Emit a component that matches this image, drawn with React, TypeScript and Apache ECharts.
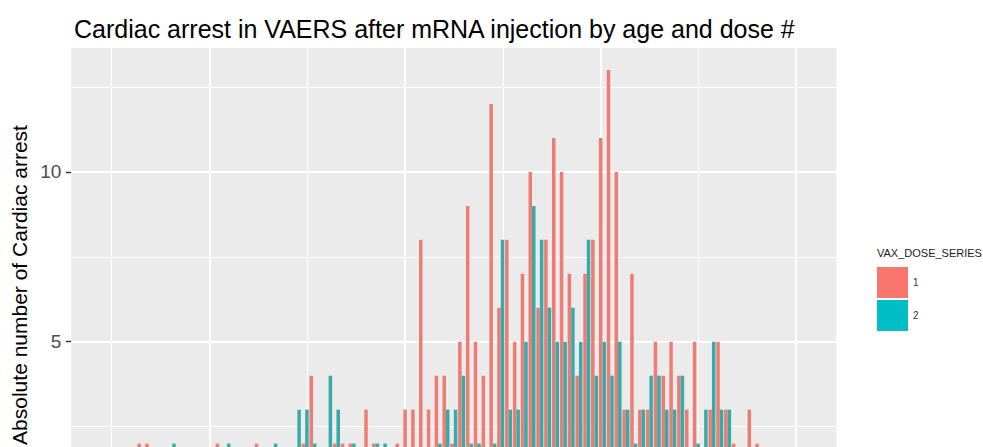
import React, { useEffect, useRef } from "react";
import * as echarts from "echarts";

// Age (years) of each bar pair
const ages = [
  12, 13, 14, 15, 16, 17, 18, 19, 20, 21, 22, 23, 24, 25, 26, 27, 28, 29, 30, 31,
  32, 33, 34, 35, 36, 37, 38, 39, 40, 41, 42, 43, 44, 45, 46, 47, 48, 49, 50, 51,
  52, 53, 54, 55, 56, 57, 58, 59, 60, 61, 62, 63, 64, 65, 66, 67, 68, 69, 70, 71,
  72, 73, 74, 75, 76, 77, 78, 79, 80, 81, 82, 83, 84, 85, 86, 87, 88, 89, 90, 91,
  92, 93, 94, 95, 96, 97, 98, 99, 100,
];
// VAX_DOSE_SERIES = 1
const dose1 = [
  1, 1, 1, 1, 2, 2, 1, 1, 1, 1, 1, 1, 1, 1, 2, 1, 1, 1, 1, 2,
  1, 1, 1, 1, 1, 2, 4, 1, 1, 2, 2, 2, 1, 3, 2, 1, 1, 2, 3, 3,
  8, 3, 4, 4, 2, 5, 9, 5, 4, 12, 6, 8, 5, 7, 10, 6, 8, 11, 10, 7,
  4, 7, 8, 11, 13, 10, 3, 7, 3, 3, 5, 4, 5, 4, 3, 5, 1, 3, 5, 3,
  2, 1, 3, 2, 1, 1, 1, 1, 1,
];
// VAX_DOSE_SERIES = 2
const dose2 = [
  0, 1, 1, 1, 1, 1, 1, 1, 2, 1, 1, 1, 1, 1, 1, 2, 1, 1, 1, 1,
  1, 2, 1, 1, 3, 3, 2, 1, 4, 3, 1, 2, 1, 1, 2, 2, 1, 1, 1, 1,
  1, 1, 2, 3, 3, 4, 2, 2, 1, 2, 8, 3, 3, 5, 9, 8, 6, 5, 5, 6,
  5, 8, 4, 5, 4, 5, 3, 2, 3, 4, 4, 3, 3, 4, 1, 2, 3, 5, 3, 3,
  1, 1, 1, 1, 1, 0, 1, 0, 1,
];
const seriesNames = ["1", "2"];
const yTickValues = [5, 10];
const yMajorBreaks = [0, 5, 10];
const yMinorBreaks = [2.5, 7.5, 12.5];
const xMajorBreaks = [25, 50, 75, 100];
const xMinorBreaks = [12.5, 37.5, 62.5, 87.5];

const TITLE = "Cardiac arrest in VAERS after mRNA injection by age and dose #";
const Y_NAME = "Absolute number of Cardiac arrest";
const LEGEND_TITLE = "VAX_DOSE_SERIES";

export default function App() {
  const ref = useRef<HTMLDivElement>(null);
  useEffect(() => {
    const el = ref.current;
    if (!el) return;
    const chart = echarts.init(el, null, { renderer: "svg" });
    const font = "'Liberation Sans', Arial, Helvetica, sans-serif";
    const minor = { color: "#FFFFFF", width: 1, type: "solid" as const };
    const major = { color: "#FFFFFF", width: 2, type: "solid" as const };
    const gridLines: any[] = [
      ...yMinorBreaks.map((v) => ({ yAxis: v, lineStyle: minor })),
      ...xMinorBreaks.map((v) => ({ xAxis: v, lineStyle: minor })),
      ...yMajorBreaks.map((v) => ({ yAxis: v, lineStyle: major })),
      ...xMajorBreaks.map((v) => ({ xAxis: v, lineStyle: major })),
    ];
    chart.setOption({
      animation: false,
      backgroundColor: "#FFFFFF",
      textStyle: { fontFamily: font },
      title: [
        {
          text: TITLE,
          left: 69,
          top: 11,
          textStyle: { fontSize: 25, fontWeight: "normal", color: "#000000", fontFamily: font },
        },
        {
          text: LEGEND_TITLE,
          left: 872,
          top: 242,
          textStyle: { fontSize: 11, fontWeight: "normal", color: "#1A1A1A", fontFamily: font },
        },
      ],
      graphic: [
        {
          type: "text",
          x: 19,
          y: 285,
          rotation: Math.PI / 2,
          silent: true,
          style: {
            text: Y_NAME,
            fontSize: 21,
            fontFamily: font,
            fill: "#000000",
            textAlign: "center",
            textVerticalAlign: "middle",
          },
        },
      ],
      legend: {
        orient: "vertical",
        left: 872,
        top: 262,
        itemWidth: 31,
        itemHeight: 31,
        itemGap: 2,
        icon: "rect",
        selectedMode: false,
        textStyle: { fontSize: 10, color: "#333333", fontFamily: font },
        data: [
          { name: seriesNames[0], itemStyle: { color: "#F8766D" } },
          { name: seriesNames[1], itemStyle: { color: "#00BFC4" } },
        ],
      },
      grid: {
        left: 71.3,
        top: 48,
        width: 765,
        height: 485.6,
        show: true,
        backgroundColor: "#EBEBEB",
        borderWidth: 0,
        containLabel: false,
      },
      xAxis: {
        type: "value",
        min: 7.105,
        max: 104.895,
        show: false,
        splitLine: { show: false },
      },
      yAxis: {
        type: "value",
        min: -0.65,
        max: 13.65,
        axisLine: { show: false },
        axisTick: {
          show: true,
          length: 5.5,
          customValues: yTickValues,
          lineStyle: { color: "#333333", width: 1.4 },
        },
        axisLabel: {
          customValues: yTickValues,
          margin: 10,
          fontSize: 19,
          color: "#4D4D4D",
          fontFamily: font,
        },
        splitLine: { show: false },
      },
      series: [
        {
          name: seriesNames[0],
          type: "bar",
          data: ages.map((a, i) => [a, dose1[i]]),
          barWidth: 3.52,
          barGap: "0%",
          itemStyle: { color: "#EC7D74" },
          z: 2,
          markLine: {
            silent: true,
            symbol: ["none", "none"],
            label: { show: false },
            z: 1,
            animation: false,
            data: gridLines,
          },
        },
        {
          name: seriesNames[1],
          type: "bar",
          data: ages.map((a, i) => [a, dose2[i]]),
          barWidth: 3.52,
          barGap: "0%",
          itemStyle: { color: "#3AAAA8" },
          z: 2,
        },
      ],
    });
    return () => chart.dispose();
  }, []);
  return (
    <div
      style={{
        position: "absolute",
        left: 0,
        top: 0,
        width: 983,
        height: 447,
        overflow: "hidden",
        background: "#FFFFFF",
      }}
    >
      <div ref={ref} style={{ width: 983, height: 560 }} />
    </div>
  );
}
